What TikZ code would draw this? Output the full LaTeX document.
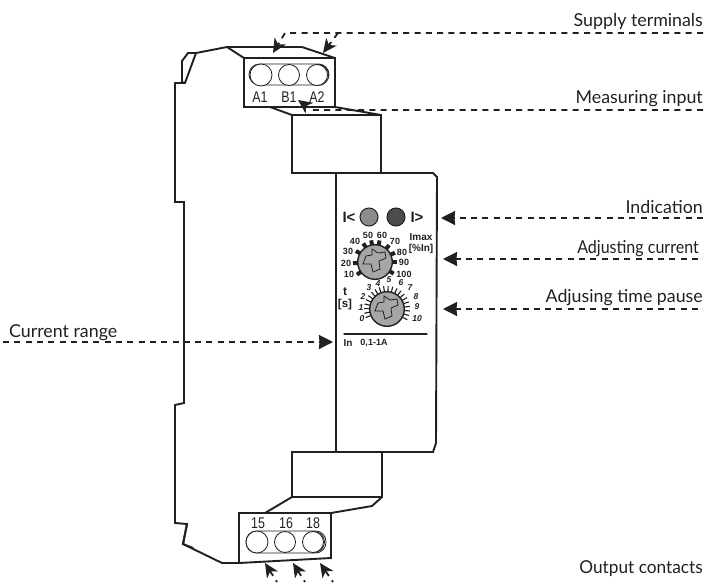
\documentclass[tikz,border=0pt]{standalone}
\usepackage{fontspec, tkz-euclide}
\usetikzlibrary{arrows.meta, calc}
\setmainfont{Lato}
\setsansfont{Liberation Sans}
\newfontfamily\termfont[FakeStretch=0.8]{Liberation Sans}
\definecolor{inkc}{HTML}{231F20}
\tikzset{>={Stealth[length=14pt, width=14pt, inset=0.5pt]}}
\tikzset{
    outline/.style={line width=1.9pt, color=inkc, line join=miter},
    leader/.style={line width=1.8pt, color=inkc, dash pattern=on 6pt off 5.3pt},
    notched/.style={>={Stealth[length=14pt, width=13pt, inset=4pt]}},
    thinline/.style={line width=0.8pt, color=inkc},
    callout/.style={font=\fontsize{17.8}{18}\selectfont, text=inkc, inner sep=0pt},
    termlabel/.style={font=\termfont\fontsize{15.5}{15.5}\selectfont, text=inkc, inner sep=0pt},
    scalebold/.style={font=\sffamily\bfseries\fontsize{9}{9}\selectfont, text=inkc, inner sep=0pt},
    scaleslant/.style={font=\sffamily\bfseries\itshape\fontsize{8.5}{8.5}\selectfont, text=inkc, inner sep=0pt}
}

\begin{document}
\begin{tikzpicture}[x=1pt, y=-1pt]
    \useasboundingbox (0,0) rectangle (721,582);
    \tkzDefPoints{175/83/R1, 175/202/R2, 184/202/R3, 184/403/R4, 175/405/R5, 175/523/R6, 187/524/R7, 183/544/R8, 193/548/R9, 222/563/R10, 239/563/B1, 331/558/B2, 331/513/B3, 239/513/B4}
    \tkzDefPoints{182/82/U1, 182/61/U2, 188/53/U3, 196/53/U4, 185/83/U5, 227/47/U6, 302/47/U7, 335/58/P1, 244/58/P2, 244/107/P3, 335/107/P4, 270/107/P5}
    \tkzDefPoints{292/115/N1, 381/115/N2, 381/173/N3, 292/173/N4, 292/452/M1, 382/452/M2, 382/497/M3, 292/497/M4, 372/506/M5, 265/513/M6}
    \tkzDefPoints{336/173/F1, 433/173/F2, 437/177/F3, 436/443/F4, 433/452/F5, 336/452/F6}
    \tkzDrawPolySeg[outline](R1,R2,R3,R4,R5,R6,R7,R8,R9)
    \tkzDrawPolySeg[outline](R7,R8,R10,B1)
    \tkzDrawPolySeg[outline](U5,U1,U2,U3,U4,U5)
    \tkzDrawPolySeg[outline](R1,U5)
    \tkzDrawPolySeg[outline](U4,U6,U7,P1)
    \tkzDrawSegment[outline](U6,P2)
    \tkzDrawPolygon[outline](P2,P1,P4,P3)
    \tkzDrawPolySeg[outline](P5,N1,N2,N3,N4,N1)
    \tkzDrawSegment[outline](P4,N2)
    \tkzDrawPolySeg[outline](F1,F2,F3,F4,F5,F6,F1)
    \tkzDrawPolySeg[outline](N4,N3)
    \tkzDrawPolygon[outline](M1,M2,M3,M4)
    \tkzDrawPolySeg[outline](M3,M5,B3)
    \tkzDrawSegment[outline](M4,M6)
    \tkzDrawPolygon[outline](B1,B2,B3,B4)

    \draw[thinline, rounded corners=10.5pt] (249,64) rectangle (329,85);
    \draw[thinline, rounded corners=10.5pt] (246,531) rectangle (326,553);
    \foreach \px/\py/\r [count=\i] in {261/75/11, 289/75/10.5, 318/75/10.5, 317/75/10.5, 257/542/11, 285/542/10.5, 314/542/10.5, 313/542/10.5}
        \draw[thinline, fill=white] (\px,\py) circle[radius=\r];
    \foreach \px/\py/\t in {260/97/A1, 289/97/B1, 317/97/A2, 258/523/15, 286/523/16, 313/523/18}
        \node[termlabel] (t\t) at (\px,\py) {\t};

    \tkzDefPoints{369/217/K1, 396/217/K2, 375/262/D1, 387/309/D2}
    \draw[line width=1pt, color=inkc, fill=black!45] (K1) circle[radius=9];
    \draw[line width=1pt, color=inkc, fill=black!70] (K2) circle[radius=9];
    \node[font=\sffamily\bfseries\fontsize{15}{15}\selectfont, text=inkc, inner sep=0pt] (lampa) at (349,217) {I<};
    \node[font=\sffamily\bfseries\fontsize{15}{15}\selectfont, text=inkc, inner sep=0pt] (lampb) at (417,217) {I>};

    \foreach \a in {215,183,150,122,100,78,50,25,0,-32}
        \draw[line width=4pt, color=inkc] ($(D1)+(-\a:16)$) -- ($(D1)+(-\a:22)$);
    \foreach \a in {-28,-16.5,...,208}
        \draw[line width=1.1pt, color=inkc] ($(D2)+(-\a:16)$) -- ($(D2)+(-\a:23)$);
    \foreach \c in {D1, D2} {
        \draw[line width=1.4pt, color=inkc, fill=black!35] (\c) circle[radius=17.3];
        \draw[thinline] (\c) ++(-3,-13) -- ++(6,4) -- ++(7,-1) -- ++(1,6) -- ++(-7,3) -- ++(1,8) -- ++(-7,3) -- ++(-2,-8) -- ++(-8,0) -- ++(3,-8) -- ++(6,-1) -- cycle;
    }
    \foreach \px/\py/\t in {349/274/10, 346/263/20, 348/251/30, 355/241/40, 368/235/50, 382/235/60, 395/241/70, 402/252/80, 404/262/90, 404/274/100}
        \node[scalebold] (s\t) at (\px,\py) {\t};
    \foreach \px/\py/\t in {362/319/0, 361/308/1, 363/297/2, 369/288/3, 378/284/4, 389/280/5, 401/283/6, 410/288/7, 416/297/8, 417/307/9, 417/319/10}
        \node[scaleslant] (p\t) at (\px,\py) {\t};
    \node[scalebold, font=\sffamily\bfseries\fontsize{10}{10}\selectfont] (imax) at (421,237) {Imax};
    \node[scalebold, font=\sffamily\bfseries\fontsize{10}{10}\selectfont] (pcin) at (421,249) {[\%In]};
    \node[scalebold, font=\sffamily\bfseries\fontsize{12}{12}\selectfont] (tlab) at (345,292) {t};
    \node[scalebold, font=\sffamily\bfseries\fontsize{11.5}{11.5}\selectfont] (slab) at (345,305) {[s]};
    \tkzDefPoints{344/334/I1, 427/334/I2}
    \tkzDrawSegment[line width=1.1pt, color=inkc](I1,I2)
    \node[scalebold, font=\sffamily\bfseries\fontsize{10}{10}\selectfont] (inlab) at (348,343) {In};
    \node[scalebold] (rangelab) at (374,343) {0,1-1A};

    \node[callout, anchor=base east] (supply) at (703,26) {Supply terminals};
    \node[callout, anchor=base east] (measure) at (703,103) {Measuring input};
    \node[callout, anchor=base east] (indic) at (703,213) {Indication};
    \node[callout, anchor=base east] (adjcur) at (699,253) {\scalebox{0.9}[1]{Adjusting current}};
    \node[callout, anchor=base east] (adjtime) at (703,302) {Adjusing time pause};
    \node[callout, anchor=base west] (currange) at (9,337) {Current range};
    \node[callout, anchor=base east] (output) at (703,573) {\scalebox{0.97}[1]{Output contacts}};

    \tkzDefPoints{703/33/S1, 285/33/S2, 273/53/S3, 338/33/S4, 323/53/S5, 703/110/S6, 312/110/S7, 298/100/S8}
    \tkzDefPoints{703/218/S9, 441/218/S10, 698/259/S11, 443/259/S12, 698/309/S13, 443/309/S14, 3/342/S15, 333/342/S16}
    \tkzDefPoints{277/582/Q1, 265/563/Q2, 305/582/Q3, 293/563/Q4, 333/582/Q5, 320/563/Q6}
    \draw[leader, notched, ->] (S1) -- (S2) -- (S3);
    \draw[leader, notched, ->] (S4) -- (S5);
    \draw[leader, notched, ->] (S6) -- (S7) -- (S8);
    \draw[leader, ->] (S9) -- (S10);
    \draw[leader, ->] (S11) -- (S12);
    \draw[leader, ->] (S13) -- (S14);
    \draw[leader, ->] (S15) -- (S16);
    \draw[leader, notched, dash phase=4pt, ->] (Q1) -- (Q2);
    \draw[leader, notched, dash phase=4pt, ->] (Q3) -- (Q4);
    \draw[leader, notched, dash phase=4pt, ->] (Q5) -- (Q6);
\end{tikzpicture}
\end{document}
